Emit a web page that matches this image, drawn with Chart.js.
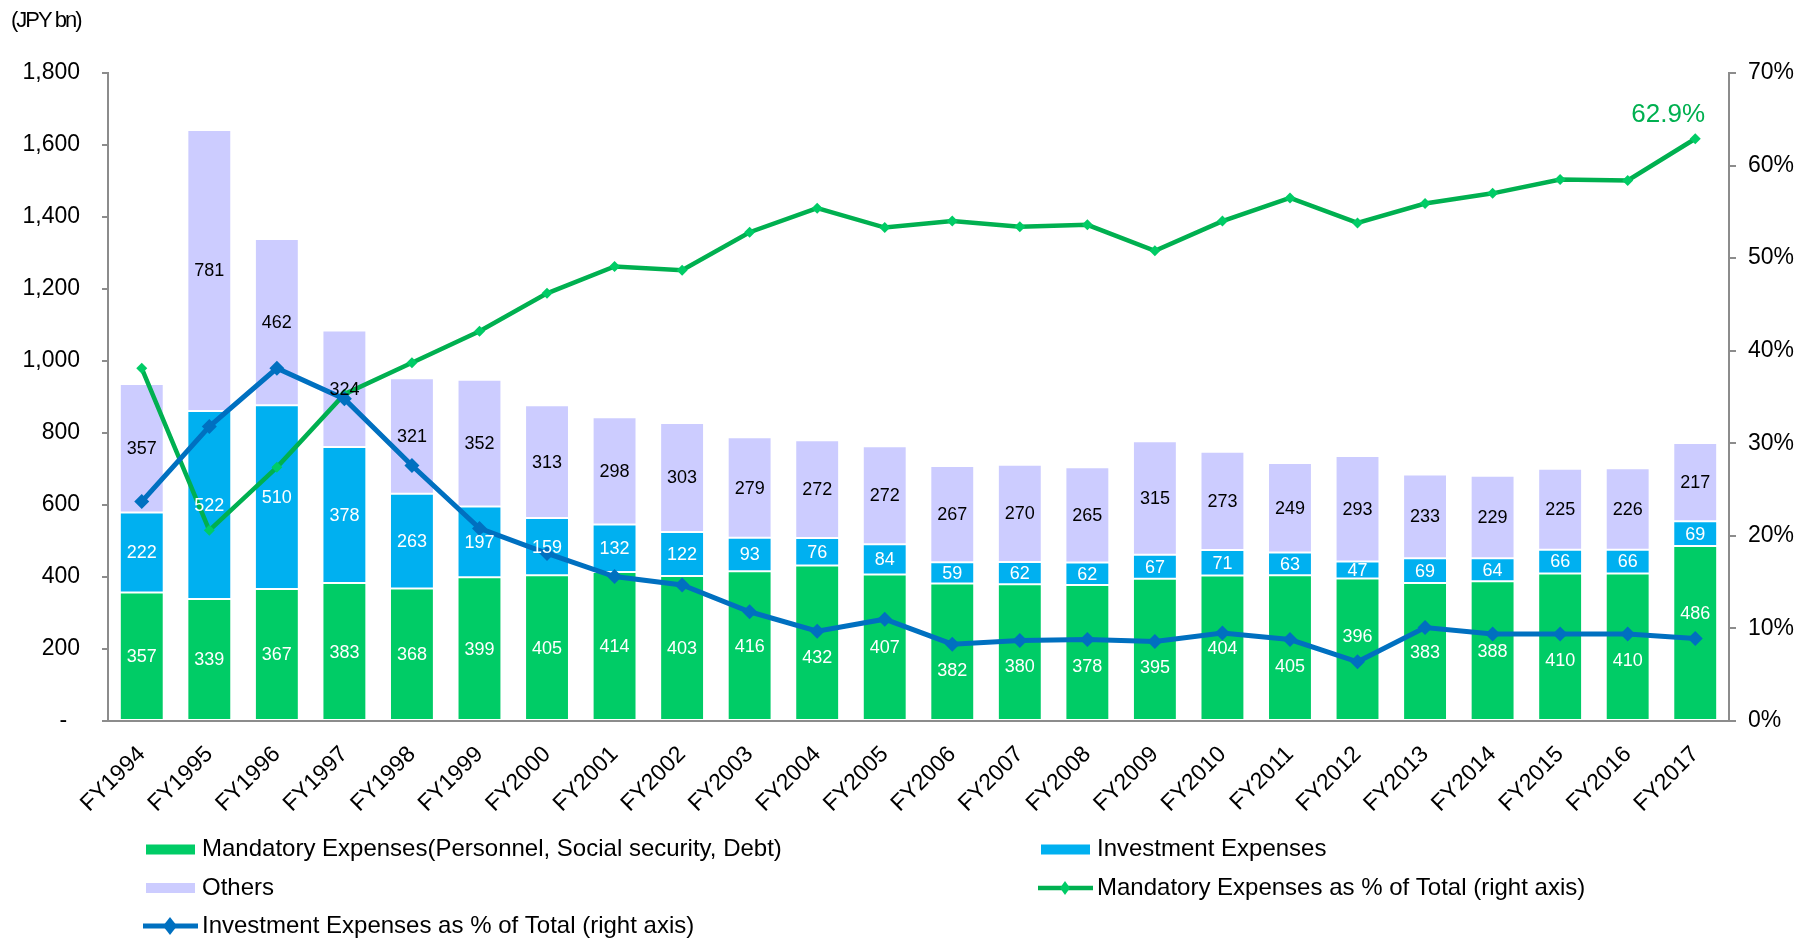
<!DOCTYPE html>
<html>
<head>
<meta charset="utf-8">
<script src="https://cdn.jsdelivr.net/npm/chart.js@4/dist/chart.umd.min.js"></script>
<style>
  html, body { margin: 0; padding: 0; background: #ffffff; }
  #wrap { width: 1812px; height: 938px; position: relative; }
</style>
</head>
<body>
<div id="wrap"><canvas id="chart" width="1812" height="938"></canvas></div>
<script>
// ---------- DATA ----------
const categories = ['FY1994','FY1995','FY1996','FY1997','FY1998','FY1999','FY2000','FY2001','FY2002','FY2003','FY2004','FY2005','FY2006','FY2007','FY2008','FY2009','FY2010','FY2011','FY2012','FY2013','FY2014','FY2015','FY2016','FY2017'];
const mandatory  = [357,339,367,383,368,399,405,414,403,416,432,407,382,380,378,395,404,405,396,383,388,410,410,486];
const investment = [222,522,510,378,263,197,159,132,122,93,76,84,59,62,62,67,71,63,47,69,64,66,66,69];
const others     = [357,781,462,324,321,352,313,298,303,279,272,272,267,270,265,315,273,249,293,233,229,225,226,217];
const mandatoryPct  = [38.1,20.6,27.4,35.3,38.7,42.1,46.2,49.1,48.7,52.8,55.4,53.3,54.0,53.4,53.6,50.8,54.0,56.5,53.8,55.9,57.0,58.5,58.4,62.9];
const investmentPct = [23.7,31.8,38.1,34.8,27.6,20.8,18.1,15.6,14.7,11.8,9.7,11.0,8.3,8.7,8.8,8.6,9.5,8.8,6.4,10.1,9.4,9.4,9.4,8.9];
const leftTicks  = [0,200,400,600,800,1000,1200,1400,1600,1800];
const rightTicks = [0,10,20,30,40,50,60,70];
const unitLabel = '(JPY bn)';
const seriesNames = [
  'Mandatory Expenses(Personnel, Social security, Debt)',
  'Investment Expenses',
  'Others',
  'Mandatory Expenses as % of Total (right axis)',
  'Investment Expenses as % of Total (right axis)'
];

// ---------- STYLE ----------
const FONT = '"Liberation Sans", Arial, Helvetica, sans-serif';
const C_MAND = '#00CC66', C_INV = '#00B0F0', C_OTH = '#CCCCFF';
const C_MLINE = '#00B050', C_MPT = '#00CC66', C_ILINE = '#0070C0';
const AXIS = '#8C8C8C';

Chart.defaults.font.family = FONT;

const labelPlugin = {
  id: 'customLabels',
  afterDatasetsDraw(chart) {
    const ctx = chart.ctx;
    ctx.save();
    ctx.font = '18px ' + FONT;
    ctx.textAlign = 'center';
    ctx.textBaseline = 'middle';
    const colors = ['#FFFFFF', '#FFFFFF', '#000000'];
    const blue = chart.getDatasetMeta(4).data;
    [0, 1, 2].forEach(di => {
      const meta = chart.getDatasetMeta(di);
      const ds = chart.data.datasets[di];
      meta.data.forEach((bar, i) => {
        let y = (bar.y + bar.base) / 2;
        if (di === 0) {
          // keep the label clear of the blue line that crosses the bar
          const ly = blue[i].y;
          if (Math.abs(y - ly) < 14) y = y < ly ? ly - 26 : ly + 26;
        }
        ctx.fillStyle = colors[di];
        ctx.fillText(ds.data[i].toLocaleString('en-US'), bar.x, y + 1);
      });
    });
    // last value label on mandatory % line
    const lm = chart.getDatasetMeta(3);
    const lastPt = lm.data[lm.data.length - 1];
    ctx.font = '26px ' + FONT;
    ctx.fillStyle = C_MLINE;
    ctx.fillText(mandatoryPct[mandatoryPct.length - 1].toFixed(1) + '%', lastPt.x - 27, lastPt.y - 24);
    ctx.restore();
  },
  afterDraw(chart) {
    const ctx = chart.ctx;
    ctx.save();
    // unit label
    ctx.font = '22px ' + FONT;
    ctx.letterSpacing = '-2px';
    ctx.fillStyle = '#000';
    ctx.textAlign = 'left';
    ctx.textBaseline = 'middle';
    ctx.fillText(unitLabel, 11, 21);
    ctx.letterSpacing = '0px';

    // legend
    const cols = [146, 1041];
    const rows = [849.5, 888, 926];
    const slots = [[0,0],[1,0],[0,1],[1,1],[0,2]];
    ctx.font = '24px ' + FONT;
    ctx.textBaseline = 'middle';
    chart.data.datasets.forEach((ds, di) => {
      const [c, r] = slots[di];
      const x = cols[c], y = rows[r];
      if (ds.type === 'line') {
        ctx.strokeStyle = ds.borderColor;
        ctx.lineWidth = ds.borderWidth;
        ctx.beginPath();
        ctx.moveTo(x - 3, y);
        ctx.lineTo(x + 52, y);
        ctx.stroke();
        const cx = x + 24, w = di === 4 ? 7 : 5, h = di === 4 ? 9 : 7;
        ctx.fillStyle = ds.pointBackgroundColor;
        ctx.beginPath();
        ctx.moveTo(cx, y - h); ctx.lineTo(cx + w, y); ctx.lineTo(cx, y + h); ctx.lineTo(cx - w, y);
        ctx.closePath();
        ctx.fill();
      } else {
        ctx.fillStyle = ds.backgroundColor;
        ctx.fillRect(x, y - 5, 49, 10);
      }
      ctx.fillStyle = '#000';
      ctx.fillText(ds.label, x + 56, y);
    });
    ctx.restore();
  }
};

const barCommon = { type: 'bar', yAxisID: 'y', stack: 'total', borderColor: '#FFFFFF', borderWidth: 1, borderSkipped: false, order: 3, barPercentage: 0.65, categoryPercentage: 1.0 };

new Chart(document.getElementById('chart'), {
  data: {
    labels: categories,
    datasets: [
      Object.assign({}, barCommon, { label: seriesNames[0], data: mandatory,  backgroundColor: C_MAND }),
      Object.assign({}, barCommon, { label: seriesNames[1], data: investment, backgroundColor: C_INV }),
      Object.assign({}, barCommon, { label: seriesNames[2], data: others,     backgroundColor: C_OTH }),
      { type: 'line', label: seriesNames[3], data: mandatoryPct, yAxisID: 'y1', order: 1,
        borderColor: C_MLINE, borderWidth: 4.5, pointStyle: 'rectRot', pointRadius: 5.5,
        pointBackgroundColor: C_MPT, pointBorderColor: C_MPT, pointBorderWidth: 0, tension: 0, fill: false },
      { type: 'line', label: seriesNames[4], data: investmentPct, yAxisID: 'y1', order: 0,
        borderColor: C_ILINE, borderWidth: 5, pointStyle: 'rectRot', pointRadius: 7.5,
        pointBackgroundColor: C_ILINE, pointBorderColor: C_ILINE, pointBorderWidth: 0, tension: 0, fill: false }
    ]
  },
  options: {
    responsive: false,
    animation: false,
    devicePixelRatio: 1,
    layout: { padding: { top: 73, left: 0, right: 0, bottom: 0 } },
    plugins: { legend: { display: false }, tooltip: { enabled: false }, title: { display: false } },
    scales: {
      x: {
        stacked: true,
        offset: true,
        grid: { display: false, drawTicks: false },
        border: { color: AXIS, width: 2 },
        ticks: { color: '#000', font: { size: 23, family: FONT }, maxRotation: 45, minRotation: 45, autoSkip: false, padding: 20 },
        afterFit(s) { s.height = 217; }
      },
      y: {
        stacked: true,
        position: 'left',
        min: 0, max: 1800,
        afterBuildTicks(s) { s.ticks = leftTicks.map(v => ({ value: v })); },
        grid: { display: true, drawOnChartArea: false, drawTicks: true, tickLength: 6, color: AXIS, lineWidth: 2 },
        border: { color: AXIS, width: 2 },
        ticks: { color: '#000', font: { size: 23, family: FONT }, padding: 22,
                 callback: v => v === 0 ? '-  ' : Number(v).toLocaleString('en-US') },
        afterFit(s) { s.width = 108; }
      },
      y1: {
        position: 'right',
        min: 0, max: 70,
        afterBuildTicks(s) { s.ticks = rightTicks.map(v => ({ value: v })); },
        grid: { display: true, drawOnChartArea: false, drawTicks: true, tickLength: 7, color: AXIS, lineWidth: 2 },
        border: { color: AXIS, width: 2 },
        ticks: { color: '#000', font: { size: 23, family: FONT }, padding: 12,
                 callback: v => v + '%' },
        afterFit(s) { s.width = 83; }
      }
    }
  },
  plugins: [labelPlugin]
});
</script>
</body>
</html>
